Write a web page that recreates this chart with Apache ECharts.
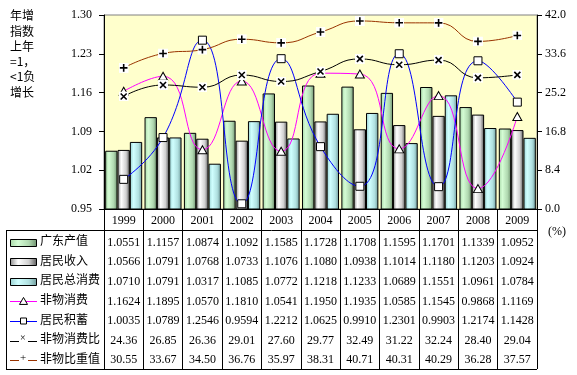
<!DOCTYPE html>
<html><head><meta charset="utf-8">
<script src="https://cdn.jsdelivr.net/npm/echarts@6/dist/echarts.min.js"></script>
<style>html,body{margin:0;padding:0;background:#fff}#c{width:577px;height:375px}</style>
</head><body><div id="c"></div>
<script>
const years = ['1999','2000','2001','2002','2003','2004','2005','2006','2007','2008','2009'];
const gdOutput = [1.0551,1.1157,1.0874,1.1092,1.1585,1.1728,1.1708,1.1595,1.1701,1.1339,1.0952];
const income = [1.0566,1.0791,1.0768,1.0733,1.1076,1.1080,1.0938,1.1014,1.1180,1.1203,1.0924];
const totalConsumption = [1.0710,1.0791,1.0317,1.1085,1.0772,1.1218,1.1233,1.0689,1.1551,1.0961,1.0784];
const nonMatConsumption = [1.1624,1.1895,1.0570,1.1810,1.0541,1.1950,1.1935,1.0585,1.1545,0.9868,1.1169];
const savings = [1.0035,1.0789,1.2546,0.9594,1.2212,1.0625,0.9910,1.2301,0.9903,1.2174,1.1428];
const nonMatRatio = [24.36,26.85,26.36,29.01,27.60,29.77,32.49,31.22,32.24,28.40,29.04];
const nonMatShare = [30.55,33.67,34.50,36.76,35.97,38.31,40.71,40.31,40.29,36.28,37.57];
const names = ['广东产值','居民收入','居民总消费','非物消费','居民积蓄','非物消费比','非物比重值'];

const serif = '"Liberation Serif","DejaVu Serif",serif';
const cjk = '"Noto Sans CJK SC","Noto Sans",sans-serif';

function grad(c0,c1,c2,c3){
  return new echarts.graphic.LinearGradient(0,0,1,0,[
    {offset:0,color:c0},{offset:0.3,color:c1},{offset:0.7,color:c2},{offset:1,color:c3}]);
}
const greenG = () => grad('#A8D8A8','#D4FCD4','#B0D8B0','#6E906E');
const silverG = () => grad('#8C8C8C','#FFFFFF','#D0D0D0','#5A5A5A');
const cyanG = () => grad('#98D0D0','#D0FFFF','#B0E0E0','#6E9A9A');

function svgSym(path){
  const s = '<svg xmlns="http://www.w3.org/2000/svg" width="10" height="10"><rect width="10" height="10" fill="#ffffff"/><path d="'+path+'" stroke="#000000" stroke-width="1.6" fill="none"/></svg>';
  return 'image://data:image/svg+xml;charset=utf-8,' + encodeURIComponent(s);
}
const plusSym = svgSym('M5 1.2V8.8M1.2 5H8.8');
const crossSym = svgSym('M2 2L8 8M8 2L2 8');

const tableRows = [
  gdOutput.map(v=>v.toFixed(4)),
  income.map(v=>v.toFixed(4)),
  totalConsumption.map(v=>v.toFixed(4)),
  nonMatConsumption.map(v=>v.toFixed(4)),
  savings.map(v=>v.toFixed(4)),
  nonMatRatio.map(v=>v.toFixed(2)),
  nonMatShare.map(v=>v.toFixed(2))
];

const rowTop = 233, rowH = 19.55;
const graphics = [];
graphics.push({type:'text', left:10, top:8, style:{text:'年增\n指数\n上年\n=1，\n<1负\n增长', font:'12px '+cjk, lineHeight:15.3, fill:'#000'}});
graphics.push({type:'text', left:548, top:226, style:{text:'(%)', font:'12px '+serif, fill:'#000'}});
graphics.push({type:'line', shape:{x1:6,y1:230.5,x2:537,y2:230.5}, style:{stroke:'#000',lineWidth:1}});
graphics.push({type:'line', shape:{x1:6,y1:369.5,x2:537,y2:369.5}, style:{stroke:'#000',lineWidth:1}});
graphics.push({type:'line', shape:{x1:6.5,y1:230,x2:6.5,y2:370}, style:{stroke:'#000',lineWidth:1}});
const barFills = [greenG(), silverG(), cyanG()];
const lineCols = ['#FF00FF','#0000FF','#000000','#993300'];
for(let i=0;i<7;i++){
  const cy = rowTop + rowH*i + rowH/2;
  if(i<3){
    graphics.push({type:'rect', shape:{x:10.5,y:Math.round(cy)-3.5,width:26,height:7}, style:{fill:barFills[i], stroke:'#000', lineWidth:1}});
  } else {
    const col = lineCols[i-3];
    graphics.push({type:'line', shape:{x1:10,y1:Math.round(cy)+0.5,x2:37,y2:Math.round(cy)+0.5}, style:{stroke:col,lineWidth:1}});
    if(i===3){
      graphics.push({type:'polygon', shape:{points:[[23.5,cy-4],[27.5,cy+3],[19.5,cy+3]]}, style:{fill:'#fff',stroke:'#000',lineWidth:1}});
    } else if(i===4){
      graphics.push({type:'rect', shape:{x:20.5,y:Math.round(cy)-3,width:6,height:6}, style:{fill:'#fff',stroke:'#000',lineWidth:1}});
    } else if(i===5){
      graphics.push({type:'rect', shape:{x:19,y:Math.round(cy)-3.5,width:9,height:8}, style:{fill:'#fff'}});
      graphics.push({type:'text', left:20, top:cy-7, style:{text:'×', font:'10px '+serif, fill:'#000'}});
    } else {
      graphics.push({type:'rect', shape:{x:19,y:Math.round(cy)-3.5,width:9,height:8}, style:{fill:'#fff'}});
      graphics.push({type:'text', left:20, top:cy-7.5, style:{text:'+', font:'11px '+serif, fill:'#000'}});
    }
  }
  graphics.push({type:'text', left:40, top:cy-8, style:{text:names[i], font:'12px '+cjk, fill:'#000'}});
}

const option = {
  animation:false,
  backgroundColor:'#ffffff',
  grid:{left:104, right:40, top:15, bottom:166, show:true, backgroundColor:'#FFFFCC', borderColor:'#808080', borderWidth:1},
  xAxis:{
    type:'category', data:years, boundaryGap:true,
    axisLine:{lineStyle:{color:'#000',width:1}},
    axisTick:{show:true, interval:0, length:160, lineStyle:{color:'#000',width:1}},
    axisLabel:{
      interval:0, margin:0, color:'#000', fontFamily:serif, fontSize:12,
      formatter:function(val, idx){
        const lines = ['{h|'+val+'}'];
        for(let r=0;r<tableRows.length;r++) lines.push('{v|'+tableRows[r][idx]+'}');
        return lines.join('\n');
      },
      rich:{
        h:{lineHeight:24, fontFamily:serif, fontSize:12, color:'#000'},
        v:{lineHeight:rowH, fontFamily:serif, fontSize:12, color:'#000'}
      }
    }
  },
  yAxis:[
    {type:'value', min:0.95, max:1.30, interval:0.07, position:'left',
     axisLine:{show:true, lineStyle:{color:'#000'}},
     axisTick:{show:true, length:5, lineStyle:{color:'#000'}},
     splitLine:{show:false},
     axisLabel:{margin:12, color:'#000', fontFamily:serif, fontSize:12, formatter:v=>v.toFixed(2)}},
    {type:'value', min:0, max:42, interval:8.4, position:'right',
     axisLine:{show:true, lineStyle:{color:'#000'}},
     axisTick:{show:true, length:5, lineStyle:{color:'#000'}},
     splitLine:{show:false},
     axisLabel:{margin:8, color:'#000', fontFamily:serif, fontSize:12, formatter:v=>v.toFixed(1)}}
  ],
  series:[
    {name:names[0], type:'bar', data:gdOutput, barGap:'0%', barCategoryGap:'6%', itemStyle:{color:greenG(), borderColor:'#000', borderWidth:1}},
    {name:names[1], type:'bar', data:income, barGap:'0%', barCategoryGap:'6%', itemStyle:{color:silverG(), borderColor:'#000', borderWidth:1}},
    {name:names[2], type:'bar', data:totalConsumption, barGap:'0%', barCategoryGap:'6%', itemStyle:{color:cyanG(), borderColor:'#000', borderWidth:1}},
    {name:names[3], type:'line', yAxisIndex:0, data:nonMatConsumption, smooth:0.5, symbol:'triangle', symbolSize:[9,8],
     itemStyle:{color:'#fff', borderColor:'#000', borderWidth:1}, lineStyle:{color:'#FF00FF', width:1}, z:5},
    {name:names[4], type:'line', yAxisIndex:0, data:savings, smooth:0.5, symbol:'rect', symbolSize:8,
     itemStyle:{color:'#fff', borderColor:'#000', borderWidth:1}, lineStyle:{color:'#0000FF', width:1}, z:5},
    {name:names[5], type:'line', yAxisIndex:1, data:nonMatRatio, smooth:0.5, symbol:crossSym, symbolSize:10,
     itemStyle:{color:'#000'}, lineStyle:{color:'#000000', width:1}, z:5},
    {name:names[6], type:'line', yAxisIndex:1, data:nonMatShare, smooth:0.5, symbol:plusSym, symbolSize:10,
     itemStyle:{color:'#000'}, lineStyle:{color:'#993300', width:1}, z:5}
  ],
  graphic:graphics
};
const chart = echarts.init(document.getElementById('c'));
chart.setOption(option);
</script>
</body></html>
